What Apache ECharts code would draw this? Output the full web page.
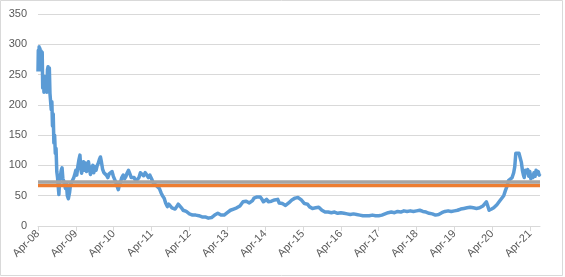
<!DOCTYPE html>
<html>
<head>
<meta charset="utf-8">
<script src="https://cdn.jsdelivr.net/npm/echarts@6/dist/echarts.min.js"></script>
<style>
html,body{margin:0;padding:0;background:#fff;}
#c{width:565px;height:277px;}
</style>
</head>
<body>
<div id="c"></div>
<script>
// ---- data ----
const startDate = "2008-04-01";
const tickLabelPrefix = "Apr-";
const yTicks = [0, 50, 100, 150, 200, 250, 300, 350];
const orangeLevel = 67;
const grayLevel = 72.5;

const dates = [
"2008-04-01","2008-04-04","2008-04-08","2008-04-12","2008-04-16","2008-04-20","2008-04-25","2008-05-01","2008-05-06","2008-05-11",
"2008-05-16","2008-05-22","2008-05-28","2008-06-04","2008-06-11","2008-06-18","2008-06-25","2008-07-01","2008-07-07","2008-07-13",
"2008-07-19","2008-07-25","2008-08-01","2008-08-07","2008-08-13","2008-08-19","2008-08-26","2008-09-02","2008-09-09","2008-09-16",
"2008-09-23","2008-09-30","2008-10-07","2008-10-14","2008-10-20","2008-10-27","2008-11-04","2008-11-12","2008-11-20","2008-11-28",
"2008-12-06","2008-12-14","2008-12-22","2009-01-01","2009-01-10","2009-01-20","2009-02-01","2009-02-10","2009-02-20","2009-03-01",
"2009-03-12","2009-03-22","2009-04-01","2009-04-10","2009-04-20","2009-05-01","2009-05-10","2009-05-18","2009-05-26","2009-06-05",
"2009-06-14","2009-06-24","2009-07-03","2009-07-13","2009-07-22","2009-08-01","2009-08-10","2009-08-20","2009-09-01","2009-09-12",
"2009-09-22","2009-10-03","2009-10-13","2009-10-25","2009-11-05","2009-11-15","2009-11-25","2009-12-05","2009-12-15","2009-12-28",
"2010-01-10","2010-01-22","2010-02-05","2010-02-18","2010-03-01","2010-03-15","2010-03-28","2010-04-10","2010-04-22","2010-05-05",
"2010-05-15","2010-05-25","2010-06-05","2010-06-18","2010-07-01","2010-07-15","2010-07-28","2010-08-10","2010-08-22","2010-09-05",
"2010-09-18","2010-10-01","2010-10-15","2010-11-01","2010-11-15","2010-12-01","2010-12-15","2011-01-01","2011-01-15","2011-02-01",
"2011-02-15","2011-03-01","2011-03-15","2011-04-01","2011-04-15","2011-05-01","2011-05-15","2011-06-01","2011-06-15","2011-07-01",
"2011-07-15","2011-08-01","2011-08-15","2011-09-01","2011-09-15","2011-10-01","2011-10-15","2011-11-01","2011-11-15","2011-12-01",
"2011-12-15","2012-01-01","2012-01-15","2012-02-01","2012-02-15","2012-03-01","2012-03-15","2012-04-01","2012-04-15","2012-05-01",
"2012-05-15","2012-06-01","2012-06-15","2012-07-01","2012-08-01","2012-08-15","2012-09-01","2012-10-01","2012-10-15","2012-11-01",
"2012-12-01","2012-12-15","2013-01-01","2013-01-15","2013-02-01","2013-03-01","2013-03-15","2013-04-01","2013-04-15","2013-05-01",
"2013-05-15","2013-06-01","2013-07-01","2013-08-01","2013-08-15","2013-09-01","2013-09-15","2013-10-01","2013-11-01","2013-11-15",
"2013-12-01","2013-12-15","2014-01-01","2014-01-15","2014-02-01","2014-02-15","2014-03-01","2014-03-15","2014-04-01","2014-04-15",
"2014-05-01","2014-05-15","2014-06-01","2014-06-15","2014-07-01","2014-07-15","2014-08-01","2014-08-15","2014-09-01","2014-09-15",
"2014-10-01","2014-10-15","2014-11-01","2014-11-15","2014-12-01","2014-12-15","2015-01-01","2015-01-15","2015-02-01","2015-02-15",
"2015-03-01","2015-03-15","2015-04-01","2015-04-15","2015-05-01","2015-05-15","2015-06-01","2015-06-15","2015-07-01","2015-07-15",
"2015-08-01","2015-08-15","2015-09-01","2015-09-15","2015-10-01","2015-10-15","2015-11-01","2015-11-15","2015-12-01","2016-01-01",
"2016-02-01","2016-03-01","2016-04-01","2016-05-01","2016-06-01","2016-07-01","2016-08-01","2016-09-01","2016-10-01","2016-11-01",
"2016-12-01","2017-01-01","2017-02-01","2017-03-01","2017-04-01","2017-05-01","2017-06-01","2017-07-01","2017-08-01","2017-09-01",
"2017-10-01","2017-11-01","2017-12-01","2018-01-01","2018-02-01","2018-03-01","2018-04-01","2018-05-01","2018-06-01","2018-07-01",
"2018-08-01","2018-09-01","2018-10-01","2018-11-01","2018-12-01","2019-01-01","2019-02-01","2019-03-01","2019-04-01","2019-05-01",
"2019-06-01","2019-07-01","2019-08-01","2019-09-01","2019-10-01","2019-11-01","2019-12-01","2020-01-01","2020-01-20","2020-02-05",
"2020-02-15","2020-03-01","2020-03-10","2020-03-25","2020-04-15","2020-05-01","2020-05-15","2020-06-01","2020-06-15","2020-07-01",
"2020-07-20","2020-08-05","2020-08-20","2020-09-05","2020-09-20","2020-10-10","2020-10-25","2020-11-05","2020-11-15","2020-12-01",
"2020-12-15","2020-12-28","2021-01-08","2021-01-18","2021-01-28","2021-02-05","2021-02-15","2021-02-25","2021-03-08","2021-03-18",
"2021-03-28","2021-04-08","2021-04-18","2021-04-28","2021-05-08","2021-05-18","2021-05-28","2021-06-08","2021-06-18","2021-06-28",
"2021-07-05"
];
const values = [
255,290,262,296,258,293,268,289,260,287,
228,246,221,247,222,240,221,258,263,226,
261,219,216,192,205,165,185,137,150,120,
128,90,80,77,52,76,82,92,96,78,
74,77,62,70,50,45,55,68,72,74,
80,86,92,84,98,110,117,95,87,98,
106,92,104,90,98,106,95,85,96,100,
88,98,92,100,104,110,114,105,94,88,
90,84,80,86,84,90,82,80,72,65,
60,68,72,80,84,78,82,88,92,86,
80,78,80,74,76,80,88,86,83,88,
86,80,84,78,72,70,67,66,62,55,
50,46,38,32,36,35,30,27,28,32,
36,34,30,26,27,24,22,20,19,18,
17,18,16,17,15,16,15,13,12,14,
18,19,21,19,18,18,17,22,24,26,
25,28,30,33,36,40,38,41,38,40,
42,46,44,48,51,48,44,40,43,44,
40,42,41,39,43,46,44,38,36,37,
35,34,36,38,41,43,45,46,48,47,
45,43,40,37,34,36,32,31,29,32,
30,33,31,28,26,24,23,25,23,22,
23,21,22,21,20,19,20,19,18,17,
17,17,18,17,17,18,20,22,23,22,
24,23,25,24,25,24,25,26,24,23,
21,20,18,19,22,24,25,24,25,26,
28,29,30,31,30,29,30,33,36,40,
35,26,24,28,30,33,35,37,42,43,
50,58,65,75,78,80,88,98,120,123,
120,122,105,92,84,80,92,88,93,82,
90,78,84,80,88,82,92,86,90,84,
86
];

// months elapsed since startDate
function monthsSince(d) {
  const a = startDate.split("-").map(Number), b = d.split("-").map(Number);
  return (b[0] - a[0]) * 12 + (b[1] - a[1]) + (b[2] - a[2]) / 30.4;
}
const xs = dates.map(monthsSince);
const mainData = xs.map((x, i) => [x, values[i]]);
const xFirst = xs[0], xLast = xs[xs.length - 1];

const chart = echarts.init(document.getElementById('c'), null, {renderer: 'canvas'});
const font = '"Liberation Sans", Arial, sans-serif';
chart.setOption({
  animation: false,
  backgroundColor: '#fff',
  grid: {left: 38, right: 25, top: 14, bottom: 51},
  graphic: [{
    type: 'rect', silent: true, z: -1,
    shape: {x: 0.5, y: 0.5, width: 562, height: 275},
    style: {fill: 'none', stroke: '#d9d9d9', lineWidth: 1}
  }],
  xAxis: {
    type: 'value', min: 0, max: xLast, interval: 12,
    axisLine: {show: true, lineStyle: {color: '#d9d9d9', width: 1}},
    axisTick: {show: true, length: 5, lineStyle: {color: '#d9d9d9'}},
    splitLine: {show: false},
    axisLabel: {
      rotate: 45, margin: 6, color: '#595959', fontSize: 11, fontFamily: font,
      showMaxLabel: false,
      formatter: v => {
        const yy = Math.round(2008 + v / 12) % 100;
        return tickLabelPrefix + (yy < 10 ? '0' : '') + yy;
      }
    }
  },
  yAxis: {
    type: 'value', min: yTicks[0], max: yTicks[yTicks.length - 1], interval: yTicks[1] - yTicks[0],
    axisLine: {show: false}, axisTick: {show: false},
    splitLine: {lineStyle: {color: '#d9d9d9', width: 1}},
    axisLabel: {color: '#595959', fontSize: 11, fontFamily: font, margin: 11}
  },
  series: [
    {type: 'line', data: mainData, showSymbol: false, symbol: 'none',
     lineStyle: {color: '#5b9bd5', width: 3.5, join: 'round'}, z: 2},
    {type: 'line', data: [[xFirst, orangeLevel], [xLast, orangeLevel]], symbol: 'none',
     lineStyle: {color: '#ed7d31', width: 3.5}, z: 3},
    {type: 'line', data: [[xFirst, grayLevel], [xLast, grayLevel]], symbol: 'none',
     lineStyle: {color: '#a5a5a5', width: 3.5}, z: 4}
  ]
});
</script>
</body>
</html>
